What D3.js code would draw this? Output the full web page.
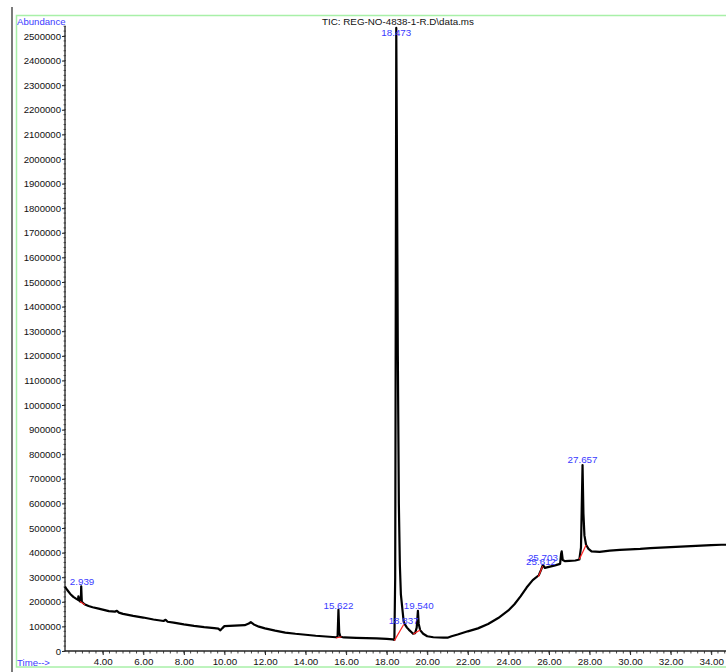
<!DOCTYPE html>
<html>
<head>
<meta charset="utf-8">
<script src="https://cdn.jsdelivr.net/npm/d3@7"></script>
<style>
  html, body { margin: 0; padding: 0; background: #fff; }
  svg { display: block; font-family: "Liberation Sans", Arial, sans-serif; }
</style>
</head>
<body>
<svg id="chart" width="726" height="672"></svg>
<script>
// Total ion chromatogram trace: retention time (min) and abundance
const traceTime = [
  2.14, 2.25, 2.4, 2.55, 2.7, 2.78, 2.8, 2.83, 2.9, 2.93, 2.939, 2.95, 2.97, 3.1, 3.3, 3.5, 3.8,
  4.0, 4.3, 4.6, 4.7, 4.8, 5.0, 5.5, 6.0, 6.5, 7.0, 7.1, 7.2, 7.5, 8.0, 8.5, 9.0, 9.5, 9.7,
  9.8, 9.9, 10.0, 10.5, 11.0, 11.2, 11.3, 11.45, 11.7, 12.0, 12.5, 13.0, 13.5, 14.0, 14.5,
  15.0, 15.5, 15.58, 15.622, 15.66, 15.72, 15.9, 16.5, 17.0, 17.5, 18.0, 18.3, 18.38, 18.42,
  18.45, 18.473, 18.5, 18.55, 18.6, 18.65, 18.7, 18.8, 18.837, 18.9, 19.0, 19.1, 19.2, 19.3,
  19.4, 19.48, 19.54, 19.58, 19.65, 19.8, 20.0, 20.3, 20.8, 21.0, 21.2, 21.5, 22.0, 22.5,
  23.0, 23.5, 24.0, 24.3, 24.6, 24.9, 25.2, 25.5, 25.612, 25.703, 25.8, 26.0, 26.3, 26.55,
  26.6, 26.63, 26.68, 26.8, 27.0, 27.3, 27.5, 27.58, 27.657, 27.7, 27.75, 27.83, 27.95, 28.1,
  28.5, 29.0, 29.5, 30.0, 30.5, 31.0, 31.5, 32.0, 32.5, 33.0, 33.5, 34.0, 34.5, 34.73
];
const traceAbund = [
  262000, 248000, 232000, 220000, 212000, 208000, 222000, 206000, 201000, 230000, 263000, 240000, 200000, 190000, 183000, 178000, 172000,
  168000, 162000, 160000, 163000, 156000, 151000, 143000, 136000, 128000, 122000, 127000, 119000, 115000, 108000, 102000, 97000, 93000, 91000,
  84000, 93000, 101000, 103000, 105000, 112000, 117000, 108000, 99000, 92000, 83000, 75000, 70000, 66000, 62000,
  59000, 56000, 58000, 168000, 75000, 58000, 55000, 53000, 52000, 51000, 49000, 47000, 45000, 300000,
  1500000, 2533000, 2100000, 1200000, 600000, 350000, 230000, 150000, 120000, 108000, 95000, 86000, 78000, 70000,
  72000, 95000, 163000, 110000, 85000, 70000, 60000, 56000, 54000, 54000, 60000, 67000, 80000, 92000,
  110000, 134000, 165000, 190000, 222000, 258000, 288000, 308000, 330000, 350000, 338000, 342000, 348000, 354000,
  395000, 405000, 370000, 365000, 366000, 368000, 372000, 420000, 756000, 560000, 470000, 432000, 415000, 405000,
  403000, 408000, 411000, 413000, 415000, 418000, 420000, 422000, 424000, 426000, 428000, 430000, 432000, 432000
];

// Integration baselines under each labelled peak: [startTime, startAbund, endTime, endAbund]
const baselineSegs = [
  [2.88, 201000, 3.12, 188000],
  [15.5, 53000, 15.78, 58000],
  [18.38, 42000, 18.84, 108000],
  [19.3, 68000, 19.65, 85000],
  [25.48, 302000, 25.69, 345000],
  [27.5, 373000, 27.83, 431000]
];

// Peak annotations: retention time label, and its position (time, abundance)
const peakLabels = ["2.939", "15.622", "18.473", "18.837", "19.540", "25.703", "25.612", "27.657"];
const peakLabelTime = [2.98, 15.622, 18.473, 18.837, 19.58, 25.703, 25.612, 27.657];
const peakLabelAbund = [268000, 172000, 2500000, 110000, 172000, 365000, 350000, 765000];

const xTicks = [4, 6, 8, 10, 12, 14, 16, 18, 20, 22, 24, 26, 28, 30, 32, 34];
const yTicks = d3.range(0, 2500001, 100000);

const svg = d3.select("#chart");
const blue = "#3a3aff";

const x = d3.scaleLinear().domain([2.14, 34.73]).range([65, 726]);
const y = d3.scaleLinear().domain([0, 2500000]).range([651, 36]);

// Page frame
svg.append("line").attr("x1", 12).attr("x2", 12).attr("y1", 7).attr("y2", 672)
  .attr("stroke", "#222").attr("stroke-width", 1.2);
svg.append("rect").attr("x", 16.5).attr("y", 15.5).attr("width", 720).attr("height", 651.5)
  .attr("fill", "none").attr("stroke", "#a8f0a8").attr("stroke-width", 1.5);

// Titles
svg.append("text").attr("x", 398).attr("y", 25).attr("text-anchor", "middle")
  .attr("font-size", 9.8).attr("fill", "#111").text("TIC: REG-NO-4838-1-R.D\\data.ms");
svg.append("text").attr("x", 17).attr("y", 25).attr("font-size", 9.6).attr("fill", blue).text("Abundance");
svg.append("text").attr("x", 17).attr("y", 666).attr("font-size", 9.6).attr("fill", blue).text("Time-->");

// Y axis
const yAxis = d3.axisLeft(y).tickValues(yTicks).tickSize(3).tickPadding(1).tickFormat(d3.format("d"));
const gy = svg.append("g").attr("transform", "translate(65,0)").call(yAxis);
gy.select(".domain").remove();
gy.selectAll("text").attr("font-size", 9.6).attr("fill", "#111").attr("font-family", "Liberation Sans, Arial, sans-serif");
gy.selectAll("line").attr("stroke", "#222");
svg.append("g").selectAll("line").data(d3.range(0, 2540001, 20000)).join("line")
  .attr("x1", 63.5).attr("x2", 66).attr("y1", d => y(d)).attr("y2", d => y(d))
  .attr("stroke", "#444").attr("stroke-width", 0.8);
svg.append("line").attr("x1", 65).attr("x2", 65).attr("y1", 26).attr("y2", 651)
  .attr("stroke", "#222").attr("stroke-width", 1.3);

// X axis
const xAxis = d3.axisBottom(x).tickValues(xTicks).tickSize(4).tickPadding(3).tickFormat(d3.format(".2f"));
const gx = svg.append("g").attr("transform", "translate(0,651)").call(xAxis);
gx.select(".domain").remove();
gx.selectAll("text").attr("font-size", 9.8).attr("fill", "#111").attr("font-family", "Liberation Sans, Arial, sans-serif");
gx.selectAll("line").attr("stroke", "#222");
const minorX = d3.range(0, 105).map(i => 2 + i / 3).filter(t => t > 2.14 && t < 34.8);
svg.append("g").selectAll("line").data(minorX).join("line")
  .attr("x1", d => x(d)).attr("x2", d => x(d)).attr("y1", 651).attr("y2", 653.5)
  .attr("stroke", "#333").attr("stroke-width", 0.9);
svg.append("line").attr("x1", 65).attr("x2", 726).attr("y1", 651).attr("y2", 651)
  .attr("stroke", "#222").attr("stroke-width", 1.3);

// Chromatogram trace
const pts = traceTime.map((t, i) => [t, traceAbund[i]]);
svg.append("path").datum(pts)
  .attr("d", d3.line().x(d => x(d[0])).y(d => y(d[1])))
  .attr("fill", "none").attr("stroke", "#000").attr("stroke-width", 2.2).attr("stroke-linejoin", "round");

// Integration baselines
svg.append("g").selectAll("line").data(baselineSegs).join("line")
  .attr("x1", d => x(d[0])).attr("y1", d => y(d[1])).attr("x2", d => x(d[2])).attr("y2", d => y(d[3]))
  .attr("stroke", "#ff2020").attr("stroke-width", 1.2);

// Peak labels
svg.append("g").selectAll("text").data(peakLabels).join("text")
  .attr("x", (d, i) => x(peakLabelTime[i]))
  .attr("y", (d, i) => y(peakLabelAbund[i]))
  .attr("text-anchor", "middle").attr("font-size", 9.8).attr("fill", blue)
  .text(d => d);
</script>
</body>
</html>
